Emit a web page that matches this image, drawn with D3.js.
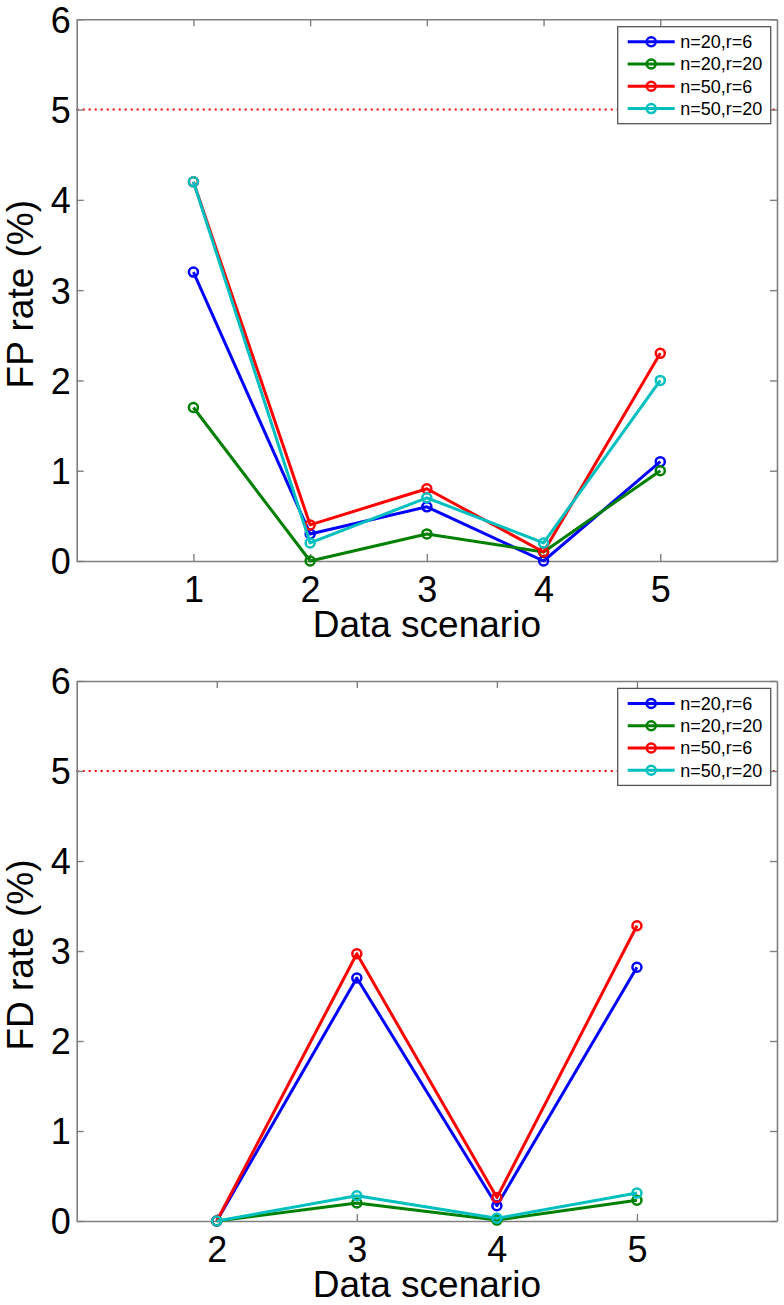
<!DOCTYPE html>
<html>
<head>
<meta charset="utf-8">
<script src="https://cdn.jsdelivr.net/npm/d3@7"></script>
<style>
  body { margin: 0; background: #fff; }
  text { font-family: "Liberation Sans", Arial, sans-serif; fill: #000; }
</style>
</head>
<body>
<div id="chart"></div>
<script>
// data
var seriesNames = ["n=20,r=6", "n=20,r=20", "n=50,r=6", "n=50,r=20"];
var seriesColors = ["#0000ff", "#008000", "#ff0000", "#00bfbf"];

var fpScenarios = [1, 2, 3, 4, 5];
var fpN20r6 = [3.2, 0.3, 0.6, 0.0, 1.1];
var fpN20r20 = [1.7, 0.0, 0.3, 0.1, 1.0];
var fpN50r6 = [4.2, 0.4, 0.8, 0.1, 2.3];
var fpN50r20 = [4.2, 0.2, 0.7, 0.2, 2.0];

var fdScenarios = [2, 3, 4, 5];
var fdN20r6 = [0.0, 2.70, 0.17, 2.82];
var fdN20r20 = [0.0, 0.20, 0.01, 0.23];
var fdN50r6 = [0.0, 2.97, 0.26, 3.28];
var fdN50r20 = [0.0, 0.28, 0.03, 0.31];

var yTicks = [0, 1, 2, 3, 4, 5, 6];
var threshold = 5;

var W = 784, H = 1305;
var axisColor = "#7f7f7f";
var fmt = d3.format("d");

var svg = d3.select("#chart")
    .append("svg")
    .attr("width", W)
    .attr("height", H);

function drawPanel(opts) {
    var left = 76.7, right = 777;
    var x = d3.scaleLinear().domain(opts.xDomain).range([left, right]);
    var y = d3.scaleLinear().domain([0, 6]).range([opts.bottom, opts.top]);

    var g = svg.append("g");

    //threshold line
    g.append("line")
        .attr("x1", x(opts.xDomain[0]))
        .attr("x2", x(opts.xDomain[1]))
        .attr("y1", y(threshold))
        .attr("y2", y(threshold))
        .attr("stroke", "#ff0000")
        .attr("stroke-width", 2)
        .attr("stroke-dasharray", "2,4");

    //axes (ticks inside, box all round)
    var xb = g.append("g")
        .attr("transform", "translate(0," + y(0) + ")")
        .call(d3.axisBottom(x).tickValues(opts.xTicks).tickFormat(fmt)
            .tickSizeInner(-7).tickSizeOuter(0).tickPadding(15));
    var xt = g.append("g")
        .attr("transform", "translate(0," + y(6) + ")")
        .call(d3.axisTop(x).tickValues(opts.xTicks).tickSizeInner(-7).tickSizeOuter(0).tickFormat(""));
    var yl = g.append("g")
        .attr("transform", "translate(" + left + ",0)")
        .call(d3.axisLeft(y).tickValues(yTicks).tickFormat(fmt)
            .tickSizeInner(-7).tickSizeOuter(0).tickPadding(6));
    var yr = g.append("g")
        .attr("transform", "translate(" + right + ",0)")
        .call(d3.axisRight(y).tickValues(yTicks).tickSizeInner(-7).tickSizeOuter(0).tickFormat(""));

    [xb, xt, yl, yr].forEach(function (a) {
        a.select(".domain").attr("stroke", axisColor).attr("stroke-width", 1.6);
        a.selectAll(".tick line").attr("stroke", axisColor).attr("stroke-width", 1.4);
        a.selectAll("text")
            .style("font-family", "'Liberation Sans', Arial, sans-serif")
            .style("font-size", "36px")
            .attr("fill", "#000");
    });
    yl.selectAll("text").attr("dy", "0.36em");

    //series
    var line = d3.line()
        .x(function (d) { return x(d[0]); })
        .y(function (d) { return y(d[1]); });

    opts.series.forEach(function (vals, i) {
        var pts = opts.xs.map(function (s, j) { return [s, vals[j]]; });
        g.append("path")
            .datum(pts)
            .attr("fill", "none")
            .attr("stroke", seriesColors[i])
            .attr("stroke-width", 3)
            .attr("stroke-linejoin", "round")
            .attr("d", line);
        g.selectAll(null)
            .data(pts)
            .enter()
            .append("circle")
            .attr("cx", function (d) { return x(d[0]); })
            .attr("cy", function (d) { return y(d[1]); })
            .attr("r", 4.5)
            .attr("fill", "none")
            .attr("stroke", seriesColors[i])
            .attr("stroke-width", 2.5);
    });

    //legend
    var lg = g.append("g")
        .attr("transform", "translate(617.7," + (opts.top + 7.4) + ")");
    lg.append("rect")
        .attr("width", 153)
        .attr("height", 97)
        .attr("fill", "#fff")
        .attr("stroke", "#555")
        .attr("stroke-width", 1.3);
    seriesNames.forEach(function (name, i) {
        var cy = 15 + i * 22.3;
        lg.append("line")
            .attr("x1", 10).attr("x2", 57)
            .attr("y1", cy).attr("y2", cy)
            .attr("stroke", seriesColors[i])
            .attr("stroke-width", 3);
        lg.append("circle")
            .attr("cx", 33.5).attr("cy", cy)
            .attr("r", 4.5)
            .attr("fill", "none")
            .attr("stroke", seriesColors[i])
            .attr("stroke-width", 2.5);
        lg.append("text")
            .attr("x", 62.5)
            .attr("y", cy)
            .attr("dy", "0.36em")
            .style("font-size", "18px")
            .text(name);
    });

    //X axis label
    g.append("text")
        .attr("x", (left + right) / 2)
        .attr("y", y(0) + 76)
        .attr("text-anchor", "middle")
        .style("font-size", "37px")
        .text("Data scenario");

    //Y axis label
    g.append("text")
        .attr("transform", "translate(33," + ((opts.top + opts.bottom) / 2 + 4) + ") rotate(-90)")
        .attr("text-anchor", "middle")
        .style("font-size", "37px")
        .text(opts.yLabel);
}

drawPanel({
    top: 19.3, bottom: 561,
    xDomain: [0, 6], xTicks: fpScenarios, xs: fpScenarios,
    series: [fpN20r6, fpN20r20, fpN50r6, fpN50r20],
    yLabel: "FP rate (%)"
});

drawPanel({
    top: 681, bottom: 1221,
    xDomain: [1, 6], xTicks: fdScenarios, xs: fdScenarios,
    series: [fdN20r6, fdN20r20, fdN50r6, fdN50r20],
    yLabel: "FD rate (%)"
});
</script>
</body>
</html>
